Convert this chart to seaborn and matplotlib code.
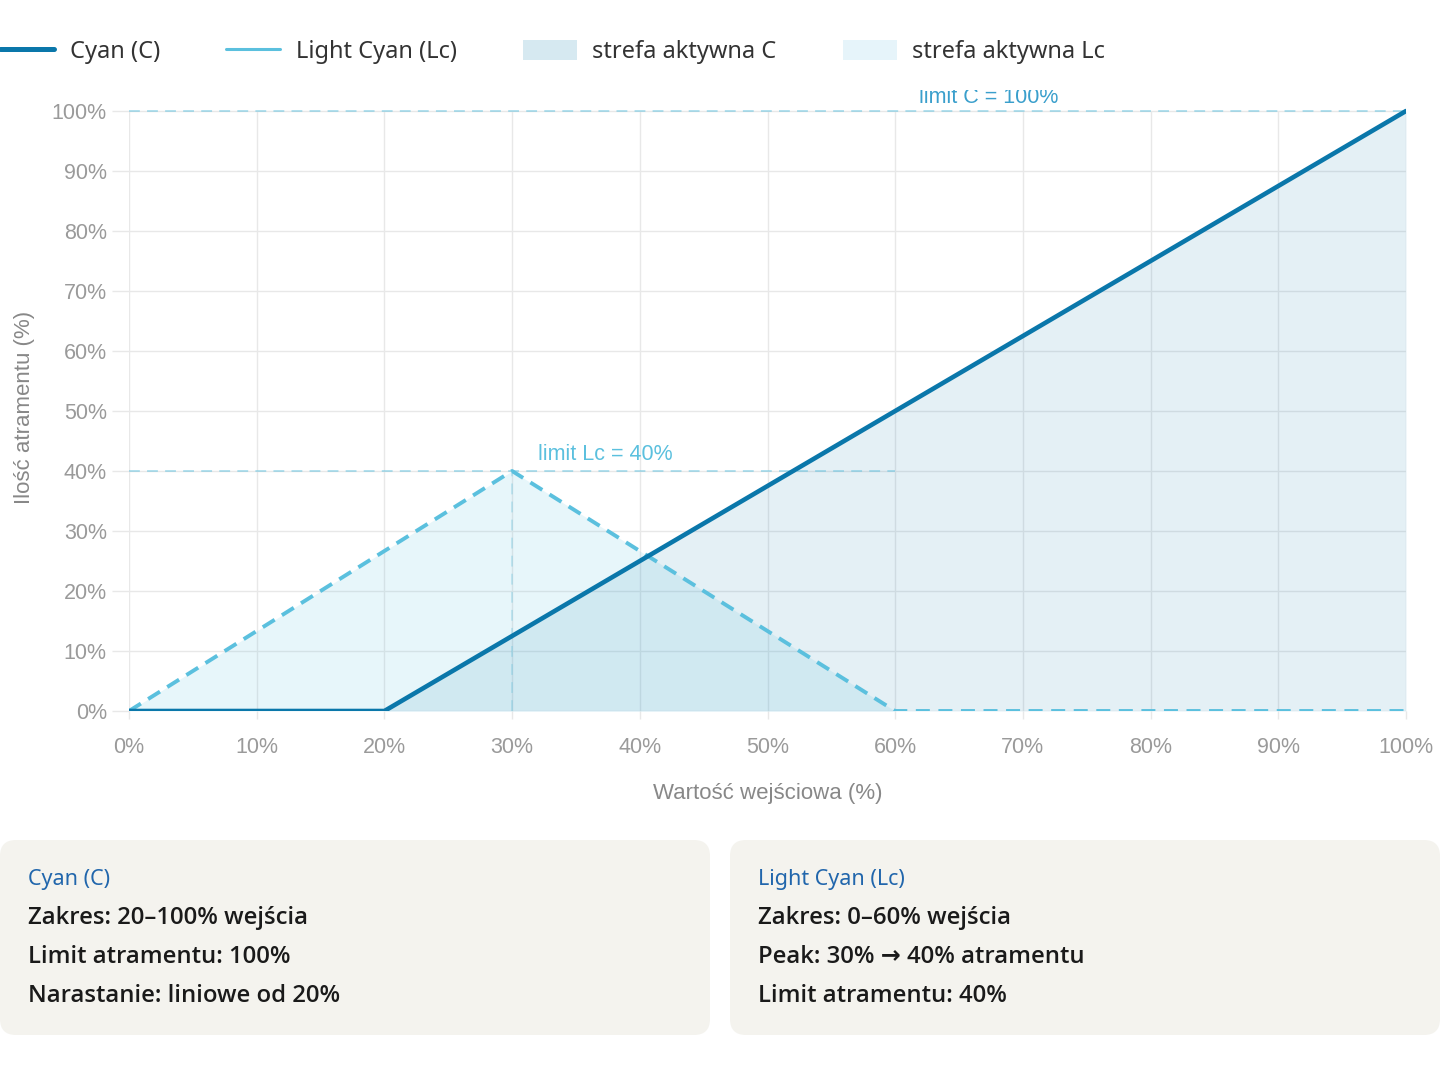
# Ink curves for Cyan (C) and Light Cyan (Lc)
import seaborn as sns
import matplotlib.pyplot as plt
from matplotlib.lines import Line2D
from matplotlib.patches import FancyBboxPatch, Patch

sns.set_style('white')
plt.rcParams['font.family'] = ['Liberation Sans', 'DejaVu Sans']

# data
c_x = [0, 20, 100]
c_y = [0, 0, 100]
lc_x = [0, 30, 60, 100]
lc_y = [0, 40, 0, 0]
ticks = [0, 10, 20, 30, 40, 50, 60, 70, 80, 90, 100]
tick_labels = [f'{t}%' for t in ticks]
lc_peak_x, lc_limit = 30, 40
lc_end = 60
c_limit = 100

series_names = ['Cyan (C)', 'Light Cyan (Lc)', 'strefa aktywna C', 'strefa aktywna Lc']
box_c = ['Cyan (C)', 'Zakres: 20–100% wejścia', 'Limit atramentu: 100%',
         'Narastanie: liniowe od 20%']
box_lc = ['Light Cyan (Lc)', 'Zakres: 0–60% wejścia', 'Peak: 30% → 40% atramentu',
          'Limit atramentu: 40%']

C_COL = '#0a77aa'
LC_COL = '#5bc0de'
GRID = '#e8e8e8'
UI_FONT = ['Noto Sans', 'DejaVu Sans']
BOX_FONT = ['Open Sans', 'Noto Sans', 'DejaVu Sans']

fig = plt.figure(figsize=(14.4, 10.68), dpi=100)

# background layer in pixel coordinates for the info boxes
bg = fig.add_axes([0, 0, 1, 1], zorder=0)
bg.set_xlim(0, 1440)
bg.set_ylim(1068, 0)
bg.axis('off')
r = 16
for x0, lines in [(0, box_c), (730, box_lc)]:
    bg.add_patch(FancyBboxPatch((x0 + r, 840 + r), 710 - 2 * r, 195 - 2 * r,
                                boxstyle=f'round,pad={r},rounding_size={r}',
                                fc='#f4f3ee', ec='none'))
    bg.text(x0 + 28, 879, lines[0], color='#2166ac', fontsize=15.5,
            family=UI_FONT, va='center')
    for i, line in enumerate(lines[1:]):
        bg.text(x0 + 28, 918 + i * 39, line, color='#1a1a1a', fontsize=17.2,
                family=BOX_FONT, weight='semibold', va='center')

ax = fig.add_axes([129 / 1440, 357 / 1068, 1277 / 1440, 621 / 1068], zorder=1)
ax.patch.set_alpha(0)
ax.set_xlim(0, 100)
ax.set_ylim(0, 103.5)

# grid limited to the 0-100 area
ax.vlines(ticks, 0, 100, color=GRID, lw=1, zorder=0)
ax.hlines(ticks, 0, 100, color=GRID, lw=1, zorder=0)

# active zones
ax.fill_between(c_x, c_y, color=C_COL, alpha=0.11, lw=0, zorder=1)
ax.fill_between(lc_x, lc_y, color=LC_COL, alpha=0.14, lw=0, zorder=1)

# reference lines
ax.hlines(c_limit, 0, 100, color=LC_COL, alpha=0.5, lw=1.3,
          linestyles=(0, (6, 4)), zorder=2)
ax.hlines(lc_limit, 0, lc_end, color=LC_COL, alpha=0.5, lw=1.3,
          linestyles=(0, (6, 4)), zorder=2)
ax.vlines(lc_peak_x, 0, lc_limit, color=LC_COL, alpha=0.3, lw=1.3,
          linestyles=(0, (6, 4)), zorder=2)

sns.lineplot(x=lc_x, y=lc_y, ax=ax, color=LC_COL, lw=2.8,
             linestyle=(0, (3.6, 2.2)), zorder=3)
sns.lineplot(x=c_x, y=c_y, ax=ax, color=C_COL, lw=3.3, zorder=4)

ax.text(32, 42.8, f'limit Lc = {lc_limit}%', color=LC_COL, fontsize=15.5,
        va='center', ha='left', clip_on=True)
ax.text(61.9, 102.3, f'limit C = {c_limit}%', color='#3a9fcc',
        fontsize=15.5, va='center', ha='left', clip_on=True)

ax.set_xticks(ticks, tick_labels)
ax.set_yticks(ticks, tick_labels)
ax.tick_params(axis='y', length=12, width=1, color=GRID, pad=4,
               labelsize=15.5, labelcolor='#9a9a9a', left=True)
ax.tick_params(axis='x', length=6, width=1, color=GRID, pad=13,
               labelsize=15.5, labelcolor='#9a9a9a', bottom=True)
for s in ax.spines.values():
    s.set_visible(False)
ax.set_xlabel('Wartość wejściowa (%)', fontsize=16, color='#888888', labelpad=18)
ax.set_ylabel('Ilość atramentu (%)', fontsize=16, color='#888888')
ax.yaxis.set_label_coords(-0.074, 100 / 103.5 / 2 + 0.005)

# legend
handles = [
    Line2D([], [], color=C_COL, lw=3.6),
    Line2D([], [], color=LC_COL, lw=2.2),
    Patch(fc='#d6e9f1', ec='none'),
    Patch(fc='#e6f4fa', ec='none'),
]
leg = fig.legend(handles, series_names, loc='center left',
                 bbox_to_anchor=(0, 1 - 52 / 1068), ncol=4, frameon=False,
                 prop={'family': UI_FONT, 'size': 17}, handlelength=2.3,
                 handleheight=0.9, handletextpad=0.65, columnspacing=2.8,
                 borderaxespad=0, borderpad=0)
for t in leg.get_texts():
    t.set_color('#333333')

fig.savefig('out.png', dpi=100)
